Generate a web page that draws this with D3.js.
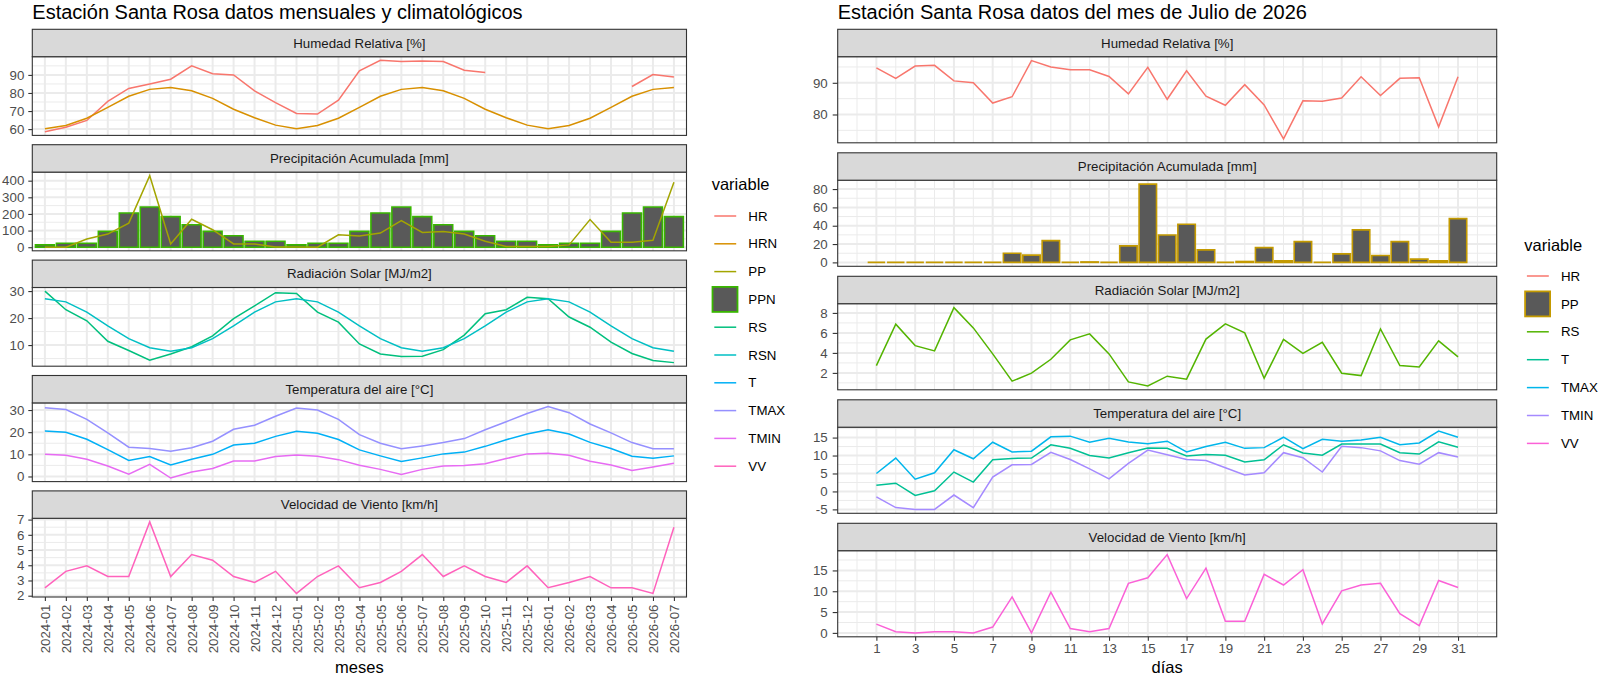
<!DOCTYPE html>
<html>
<head>
<meta charset="utf-8">
<script src="https://cdn.jsdelivr.net/npm/d3@7"></script>
<style>
  body { margin: 0; background: #fff; }
  text { font-family: "Liberation Sans", Arial, sans-serif; }
</style>
</head>
<body>
<div id="chart"></div>
<script>
// ---------------- data: monthly + climatology (left) ----------------
var months = ["2024-01","2024-02","2024-03","2024-04","2024-05","2024-06","2024-07","2024-08",
  "2024-09","2024-10","2024-11","2024-12","2025-01","2025-02","2025-03","2025-04","2025-05",
  "2025-06","2025-07","2025-08","2025-09","2025-10","2025-11","2025-12","2026-01","2026-02",
  "2026-03","2026-04","2026-05","2026-06","2026-07"];

var HR   = [58.5,61,64.8,75.3,82.5,85,87.6,95,90.7,90,81.2,74.7,68.7,68.3,76,92.2,98.1,97.4,97.7,97.4,92.6,91.3,
            null,null,null,null,null,null,83.6,90.2,88.9];
var HRN  = [60.2,62,66,72,78.2,82,83,81.2,77,71,66.3,62.2,60.2,62,66,72,78.2,82,83,81.2,77,71,66.3,62.2,
            60.2,62,66,72,78.2,82,83];
var PP   = [0,0,49,79,145,430,20,168,105,20,20,2,2,0,75,67,85,160,89,95,79,36,4,4,4,14,166,30,30,42,390];
var PPN  = [14,24,24,95,206,242,184,135,95,69,36,36,14,24,24,95,206,242,184,135,95,69,36,36,
            14,24,24,95,206,242,184];
var RS   = [30,23.1,19,11.4,8,4.4,6.7,9.4,13.4,19.8,24.5,29.4,29.1,22.2,18.5,10.4,6.7,5.8,5.9,8.3,13.7,21.6,
            23.1,27.7,27.2,20.4,16.6,11.1,6.9,4.3,3.5];
var RSN  = [27.2,26,22.2,17.1,12.4,9,7.7,9,12.4,17.1,22.2,26,27.2,26,22.2,17.1,12.4,9,7.7,9,12.4,17.1,22.2,26,
            27.2,26,22.2,17.1,12.4,9,7.7];
var T    = [20.5,20,16.8,12.1,7.2,9,5.2,7.8,10,14.2,15,18.1,20.4,19.5,16.7,12,9.3,6.8,8.4,10.2,11,13.6,16.6,19.2,
            21.1,19.2,15.4,12.6,9.1,8.2,9.3];
var TMAX = [31,30.2,25.8,19.7,13.2,12.6,11.4,13,15.9,21.3,23.1,27.2,30.9,30,25.8,18.9,15,12.5,13.8,15.3,17.1,21.1,
            24.7,28.4,31.6,28.8,23.7,19.7,15.3,12.5,12.5];
var TMIN = [10,9.6,7.8,4.7,1,5.5,-0.7,2,3.6,7,7,9,9.7,9.1,7.6,5.1,3.2,0.9,3.2,4.7,4.9,5.7,8.1,10.2,
            10.5,9.6,6.9,5.2,2.7,4.3,6];
var VV   = [2.52,3.6,3.96,3.26,3.26,6.85,3.26,4.7,4.33,3.26,2.87,3.6,2.15,3.26,3.96,2.52,2.87,3.6,4.7,3.26,3.96,3.26,
            2.87,3.96,2.52,2.87,3.26,2.52,2.52,2.15,6.5];

// ---------------- data: days of July 2026 (right) ----------------
var days = d3.range(1, 32);
var dHR   = [94.7,91.4,95.3,95.5,90.6,90,83.6,85.6,97,95,94.1,94.1,92,86.5,94.9,84.8,93.8,85.8,82.9,89.4,83,72.3,
             84.3,84.2,85.2,91.9,86,91.4,91.6,76.1,91.9];
var dPP   = [0,0,0,0,0,0,0,10,7.9,23.7,0,0.5,0,18,85.4,29.8,41.6,13.6,0,1,16.1,1.8,22.6,0,9.3,35.5,7.5,22.6,3.6,1.8,47.7];
var dRS   = [2.73,6.87,4.73,4.2,8.53,6.5,3.9,1.17,1.97,3.36,5.3,5.9,3.9,1.1,0.7,1.67,1.37,5.38,6.9,6,1.47,5.35,
             3.96,5.06,1.97,1.73,6.4,2.73,2.6,5.2,3.6];
var dT    = [1.7,2.3,-1.1,0.2,5.4,2.6,8.8,9.2,9.3,13,12,10,9.3,10.8,12.1,12,9.9,10.3,10.1,8.2,8.8,13,10.7,10.1,
             13.2,13.2,13.2,10.8,10.4,13.8,12.3];
var dTMAX = [5,9.3,3.4,5.2,11.6,9.1,13.7,11,11.2,15.2,15.4,13.7,14.8,13.8,13.3,14,11,12.5,13.7,12,12.2,15.1,11.9,
             14.5,14,14.3,15.1,13,13.5,16.8,15.1];
var dTMIN = [-1.5,-4.5,-5,-5,-1,-4.5,4,7.4,7.5,10.9,8.9,6.3,3.5,7.8,11.5,10.2,8.9,8.6,6.6,4.6,5.2,10.8,9.4,5.4,
             12.6,12.2,11.3,8.6,7.6,10.8,9.6];
var dVV   = [2.1,0.3,0,0.3,0.3,0,1.4,8.65,0,9.76,1.03,0.3,1.03,11.9,13.25,18.8,8.25,15.55,2.8,2.8,14.05,11.5,15.16,
             2.14,10.1,11.5,11.9,4.6,1.75,12.6,10.9];

// facet titles and tick labels
var facetTitles = ["Humedad Relativa [%]", "Precipitación Acumulada [mm]", "Radiación Solar [MJ/m2]",
                   "Temperatura del aire [°C]", "Velocidad de Viento [km/h]"];
var leftTicks  = [[60,70,80,90], [0,100,200,300,400], [10,20,30], [0,10,20,30], [2,3,4,5,6,7]];
var rightTicks = [[80,90], [0,20,40,60,80], [2,4,6,8], [-5,0,5,10,15], [0,5,10,15]];
var dayTicks = [1,3,5,7,9,11,13,15,17,19,21,23,25,27,29,31];

var leftKeys  = ["HR","HRN","PP","PPN","RS","RSN","T","TMAX","TMIN","VV"];
var leftColors = ["#F8766D","#D89000","#A3A500","#39B600","#00BF7D","#00BFC4","#00B0F6","#9590FF","#E76BF3","#FF62BC"];
var rightKeys = ["HR","PP","RS","T","TMAX","TMIN","VV"];
var rightColors = ["#F8766D","#C49A00","#53B400","#00C094","#00B6EB","#A58AFF","#FB61D7"];

var W = 1600, H = 676;
var svg = d3.select("#chart").append("svg")
    .attr("width", W)
    .attr("height", H);

// ---------------- left chart ----------------
var leftData = {HR: HR, HRN: HRN, PP: PP, PPN: PPN, RS: RS, RSN: RSN, T: T, TMAX: TMAX, TMIN: TMIN, VV: VV};
var xMonth = d3.scalePoint().domain(months).range([32.3, 686.5]).padding(0.6);

drawFacets({
    x: function(i) { return xMonth(months[i]); },
    barHalf: xMonth.step() * 0.45,
    x0: 32.3, x1: 686.5,
    top: 29.3, pitch: 115.4, stripH: 27.4, panelH: 78.7,
    majorX: months.map(function(m) { return xMonth(m); }),
    minorX: [],
    data: leftData,
    colors: d3.scaleOrdinal().domain(leftKeys).range(leftColors),
    facets: [
        {lines: ["HR","HRN"]},
        {bars: "PPN", lines: ["PP"]},
        {lines: ["RS","RSN"]},
        {lines: ["T","TMAX","TMIN"]},
        {lines: ["VV"]}
    ],
    ticks: leftTicks,
    tickGap: 4
});

// rotated month labels
var lastBottom = 29.3 + 4 * 115.4 + 27.4 + 78.7;
var xAxisL = svg.append("g")
    .attr("transform", "translate(0," + lastBottom + ")")
    .call(d3.axisBottom(xMonth).tickSize(4).tickPadding(3));
styleAxis(xAxisL);
xAxisL.selectAll("text")
    .attr("transform", "rotate(-90)")
    .attr("text-anchor", "end")
    .attr("x", -7.5)
    .attr("y", 0)
    .attr("dy", "0.35em");

svg.append("text").attr("x", 359.4).attr("y", 673).attr("text-anchor", "middle")
    .style("font-size", "16.5px").text("meses");
svg.append("text").attr("x", 32.3).attr("y", 19).style("font-size", "20px")
    .text("Estación Santa Rosa datos mensuales y climatológicos");

drawLegend(711.7, 190, 216, 27.8, leftKeys, leftColors, "PPN");

// ---------------- right chart ----------------
var rightData = {HR: dHR, PP: dPP, RS: dRS, T: dT, TMAX: dTMAX, TMIN: dTMIN, VV: dVV};
var xDay = d3.scaleLinear().domain([-0.995, 32.995]).range([837.7, 1496.7]);

drawFacets({
    x: function(i) { return xDay(days[i]); },
    barHalf: xDay(0.45) - xDay(0),
    x0: 837.7, x1: 1496.7,
    top: 29.3, pitch: 123.5, stripH: 27.4, panelH: 86.1,
    majorX: dayTicks.map(xDay),
    minorX: d3.range(0, 33, 2).map(xDay),
    data: rightData,
    colors: d3.scaleOrdinal().domain(rightKeys).range(rightColors),
    facets: [
        {lines: ["HR"]},
        {bars: "PP", lines: []},
        {lines: ["RS"]},
        {lines: ["T","TMAX","TMIN"]},
        {lines: ["VV"]}
    ],
    ticks: rightTicks,
    tickGap: 5
});

var lastBottomR = 29.3 + 4 * 123.5 + 27.4 + 86.1;
var xAxisR = svg.append("g")
    .attr("transform", "translate(0," + lastBottomR + ")")
    .call(d3.axisBottom(xDay).tickValues(dayTicks).tickSize(4).tickPadding(3)
        .tickFormat(function(d) { return String(d); }));
styleAxis(xAxisR);

svg.append("text").attr("x", (837.7 + 1496.7) / 2).attr("y", 673).attr("text-anchor", "middle")
    .style("font-size", "16.5px").text("días");
svg.append("text").attr("x", 837.7).attr("y", 19).style("font-size", "20px")
    .text("Estación Santa Rosa datos del mes de Julio de 2026");

drawLegend(1524.3, 251, 276, 27.9, rightKeys, rightColors, "PP");

// ---------------- helpers ----------------
function drawFacets(cfg) {
    cfg.facets.forEach(function(f, i) {
        var top = cfg.top + i * cfg.pitch;
        var pTop = top + cfg.stripH, pBot = pTop + cfg.panelH;
        var g = svg.append("g");

        // y scale: data range + 5% each side (free scales)
        var vals = [];
        f.lines.forEach(function(k) { cfg.data[k].forEach(function(v) { if (v != null) vals.push(v); }); });
        if (f.bars) { cfg.data[f.bars].forEach(function(v) { vals.push(v); }); vals.push(0); }
        var ext = d3.extent(vals), pad = (ext[1] - ext[0]) * 0.05;
        var y = d3.scaleLinear().domain([ext[0] - pad, ext[1] + pad]).range([pBot, pTop]);

        var ticks = cfg.ticks[i];
        var step = ticks[1] - ticks[0];
        var minorY = [ticks[0] - step / 2].concat(ticks.map(function(t) { return t + step / 2; }))
            .filter(function(v) { return v > y.domain()[0] && v < y.domain()[1]; });

        g.append("rect")
            .attr("x", cfg.x0).attr("y", pTop)
            .attr("width", cfg.x1 - cfg.x0).attr("height", cfg.panelH)
            .attr("fill", "#fff");

        // grid: minor then major
        g.selectAll("line.minorY").data(minorY).enter().append("line")
            .attr("x1", cfg.x0).attr("x2", cfg.x1)
            .attr("y1", y).attr("y2", y)
            .attr("stroke", "#EBEBEB").attr("stroke-width", 1);
        g.selectAll("line.minorX").data(cfg.minorX).enter().append("line")
            .attr("x1", function(d) { return d; }).attr("x2", function(d) { return d; })
            .attr("y1", pTop).attr("y2", pBot)
            .attr("stroke", "#EBEBEB").attr("stroke-width", 1);
        g.selectAll("line.majorY").data(ticks).enter().append("line")
            .attr("x1", cfg.x0).attr("x2", cfg.x1)
            .attr("y1", y).attr("y2", y)
            .attr("stroke", "#EBEBEB").attr("stroke-width", 2);
        g.selectAll("line.majorX").data(cfg.majorX).enter().append("line")
            .attr("x1", function(d) { return d; }).attr("x2", function(d) { return d; })
            .attr("y1", pTop).attr("y2", pBot)
            .attr("stroke", "#EBEBEB").attr("stroke-width", 2);

        // bars (zero bars still show their outline)
        if (f.bars) {
            var col = cfg.colors(f.bars);
            g.selectAll("path.bar").data(cfg.data[f.bars]).enter().append("path")
                .attr("d", function(v, j) {
                    var cx = cfg.x(j);
                    return "M" + (cx - cfg.barHalf) + "," + y(0) + "H" + (cx + cfg.barHalf)
                        + "V" + y(v) + "H" + (cx - cfg.barHalf) + "Z";
                })
                .attr("fill", "#595959")
                .attr("stroke", col)
                .attr("stroke-width", 1.6);
        }

        // lines
        f.lines.forEach(function(k) {
            var line = d3.line()
                .defined(function(v) { return v != null; })
                .x(function(v, j) { return cfg.x(j); })
                .y(function(v) { return y(v); });
            g.append("path")
                .datum(cfg.data[k])
                .attr("d", line)
                .attr("fill", "none")
                .attr("stroke", cfg.colors(k))
                .attr("stroke-width", 1.5);
        });

        // panel border
        g.append("rect")
            .attr("x", cfg.x0).attr("y", pTop)
            .attr("width", cfg.x1 - cfg.x0).attr("height", cfg.panelH)
            .attr("fill", "none").attr("stroke", "#333333").attr("stroke-width", 1.1);

        // strip
        g.append("rect")
            .attr("x", cfg.x0).attr("y", top)
            .attr("width", cfg.x1 - cfg.x0).attr("height", cfg.stripH)
            .attr("fill", "#D9D9D9").attr("stroke", "#333333").attr("stroke-width", 1.1);
        g.append("text")
            .attr("x", (cfg.x0 + cfg.x1) / 2).attr("y", top + cfg.stripH / 2 + 4.6)
            .attr("text-anchor", "middle")
            .style("font-size", "13.3px").attr("fill", "#1A1A1A")
            .text(facetTitles[i]);

        // y axis
        var ax = svg.append("g")
            .attr("transform", "translate(" + cfg.x0 + ",0)")
            .call(d3.axisLeft(y).tickValues(ticks).tickSize(cfg.tickGap).tickPadding(cfg.tickGap)
                .tickFormat(function(d) { return String(d); }));
        styleAxis(ax);
    });
}

function styleAxis(ax) {
    ax.select(".domain").remove();
    ax.selectAll(".tick line").attr("stroke", "#333333").attr("stroke-width", 1.1);
    ax.selectAll(".tick text")
        .attr("fill", "#4D4D4D")
        .style("font-size", "13.3px")
        .style("font-family", "'Liberation Sans', Arial, sans-serif");
}

function drawLegend(x, titleY, firstY, pitch, keys, colors, barKey) {
    var g = svg.append("g");
    g.append("text").attr("x", x).attr("y", titleY).style("font-size", "16.5px").text("variable");
    keys.forEach(function(k, i) {
        var cy = firstY + i * pitch;
        if (k === barKey) {
            g.append("rect")
                .attr("x", x + 0.8).attr("y", cy - 12.5)
                .attr("width", 25).attr("height", 25)
                .attr("fill", "#595959").attr("stroke", colors[i]).attr("stroke-width", 1.8);
        } else {
            g.append("line")
                .attr("x1", x + 2.6).attr("x2", x + 24.5)
                .attr("y1", cy).attr("y2", cy)
                .attr("stroke", colors[i]).attr("stroke-width", 1.5);
        }
        g.append("text")
            .attr("x", x + 36.6).attr("y", cy).attr("dy", "0.35em")
            .style("font-size", "13.3px").attr("fill", "#000")
            .text(k);
    });
}
</script>
</body>
</html>
